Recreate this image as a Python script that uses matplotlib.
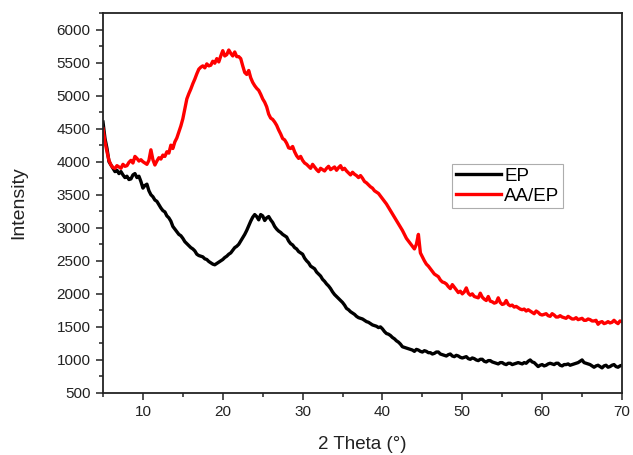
import matplotlib
matplotlib.use("Agg")
import matplotlib.pyplot as plt
from matplotlib.ticker import MultipleLocator

plt.rcParams['font.family'] = ['Liberation Sans', 'DejaVu Sans']

# intensities sampled every 0.25 degree, one row per degree (x.00, x.25, x.50, x.75)
aa_ep = [
    4500, 4300, 4150, 4020,  # 5
    3950, 3910, 3900, 3940,  # 6
    3920, 3900, 3960, 3930,  # 7
    3940, 3990, 4020, 3980,  # 8
    4080, 4050, 4010, 4030,  # 9
    4000, 3980, 3960, 4020,  # 10
    4180, 4030, 3950, 4010,  # 11
    4060, 4040, 4100, 4080,  # 12
    4150, 4130, 4250, 4200,  # 13
    4300, 4360, 4450, 4540,  # 14
    4650, 4800, 4950, 5030,  # 15
    5100, 5180, 5250, 5330,  # 16
    5400, 5430, 5450, 5420,  # 17
    5480, 5450, 5460, 5520,  # 18
    5490, 5560, 5510, 5600,  # 19
    5680, 5600, 5620, 5690,  # 20
    5640, 5600, 5660, 5590,  # 21
    5590, 5560, 5450, 5350,  # 22
    5320, 5380, 5270, 5200,  # 23
    5150, 5110, 5080, 5020,  # 24
    4950, 4900, 4830, 4720,  # 25
    4660, 4640, 4600, 4550,  # 26
    4480, 4420, 4350, 4330,  # 27
    4280, 4210, 4200, 4230,  # 28
    4150, 4090, 4050, 4080,  # 29
    4020, 3980, 3960, 3930,  # 30
    3900, 3960, 3920, 3880,  # 31
    3850, 3900, 3880, 3860,  # 32
    3900, 3930, 3880, 3900,  # 33
    3920, 3870, 3910, 3940,  # 34
    3880, 3900, 3860, 3830,  # 35
    3800, 3840, 3810, 3790,  # 36
    3760, 3790, 3750, 3700,  # 37
    3680, 3650, 3620, 3600,  # 38
    3560, 3540, 3520, 3480,  # 39
    3440, 3400, 3360, 3310,  # 40
    3260, 3210, 3160, 3110,  # 41
    3060, 3010, 2960, 2900,  # 42
    2840, 2800, 2760, 2720,  # 43
    2680, 2750, 2900, 2620,  # 44
    2560, 2500, 2450, 2420,  # 45
    2380, 2340, 2300, 2280,  # 46
    2260, 2210, 2180, 2170,  # 47
    2150, 2110, 2080, 2140,  # 48
    2100, 2060, 2020, 2040,  # 49
    2000, 2030, 2090, 2010,  # 50
    1980, 2000, 1960, 1950,  # 51
    1940, 2010, 1950, 1920,  # 52
    1900, 1960, 1890, 1880,  # 53
    1860, 1870, 1940, 1870,  # 54
    1840, 1850, 1900, 1840,  # 55
    1820, 1830, 1800, 1810,  # 56
    1790, 1770, 1760, 1770,  # 57
    1740, 1760, 1740, 1720,  # 58
    1700, 1740, 1720, 1690,  # 59
    1680, 1690, 1700, 1670,  # 60
    1660, 1700, 1680, 1650,  # 61
    1650, 1670, 1650, 1640,  # 62
    1630, 1660, 1640, 1620,  # 63
    1620, 1640, 1610, 1620,  # 64
    1630, 1600, 1600, 1620,  # 65
    1610, 1590, 1590, 1600,  # 66
    1540, 1570, 1580, 1550,  # 67
    1560, 1580, 1560, 1570,  # 68
    1600, 1570, 1550, 1590,  # 69
    1580,                    # 70
]

ep = [
    4600, 4350, 4200, 4000,  # 5
    3950, 3900, 3850, 3870,  # 6
    3820, 3850, 3800, 3760,  # 7
    3780, 3730, 3740, 3800,  # 8
    3820, 3760, 3780, 3700,  # 9
    3600, 3640, 3660, 3560,  # 10
    3500, 3470, 3420, 3400,  # 11
    3350, 3300, 3260, 3240,  # 12
    3180, 3150, 3100, 3020,  # 13
    2980, 2940, 2900, 2880,  # 14
    2840, 2790, 2760, 2730,  # 15
    2700, 2680, 2650, 2600,  # 16
    2580, 2570, 2560, 2530,  # 17
    2520, 2490, 2470, 2450,  # 18
    2440, 2460, 2480, 2500,  # 19
    2520, 2550, 2570, 2600,  # 20
    2620, 2660, 2700, 2720,  # 21
    2750, 2800, 2850, 2900,  # 22
    2960, 3030, 3100, 3160,  # 23
    3200, 3170, 3120, 3200,  # 24
    3180, 3110, 3150, 3170,  # 25
    3120, 3080, 3020, 2980,  # 26
    2950, 2930, 2900, 2880,  # 27
    2860, 2800, 2760, 2740,  # 28
    2700, 2680, 2640, 2620,  # 29
    2600, 2540, 2500, 2470,  # 30
    2420, 2400, 2380, 2330,  # 31
    2300, 2270, 2220, 2190,  # 32
    2150, 2120, 2080, 2030,  # 33
    1990, 1960, 1930, 1900,  # 34
    1870, 1830, 1780, 1760,  # 35
    1730, 1710, 1690, 1660,  # 36
    1640, 1630, 1620, 1600,  # 37
    1580, 1570, 1550, 1530,  # 38
    1520, 1510, 1490, 1500,  # 39
    1470, 1430, 1400, 1390,  # 40
    1370, 1340, 1320, 1290,  # 41
    1270, 1240, 1200, 1190,  # 42
    1180, 1170, 1160, 1150,  # 43
    1130, 1160, 1150, 1130,  # 44
    1120, 1140, 1130, 1110,  # 45
    1110, 1090, 1100, 1120,  # 46
    1120, 1090, 1080, 1070,  # 47
    1060, 1080, 1090, 1060,  # 48
    1050, 1070, 1060, 1040,  # 49
    1030, 1040, 1050, 1020,  # 50
    1010, 1030, 1020, 1000,  # 51
    990, 1010, 1010, 980,    # 52
    970, 990, 990, 970,      # 53
    960, 950, 940, 960,      # 54
    960, 940, 930, 950,      # 55
    950, 930, 940, 950,      # 56
    960, 950, 940, 960,      # 57
    950, 980, 1000, 970,     # 58
    960, 930, 900, 920,      # 59
    930, 910, 920, 940,      # 60
    950, 940, 930, 950,      # 61
    950, 920, 910, 930,      # 62
    930, 940, 920, 930,      # 63
    940, 950, 960, 980,      # 64
    1000, 960, 950, 940,     # 65
    930, 910, 890, 910,      # 66
    920, 900, 880, 910,      # 67
    920, 890, 900, 920,      # 68
    930, 900, 890, 910,      # 69
    920,                     # 70
]

two_theta = [5.0 + 0.25 * i for i in range(len(ep))]

series_labels = ["EP", "AA/EP"]
x_label = "2 Theta (°)"
y_label = "Intensity"

fig = plt.figure(figsize=(6.33, 4.55), dpi=100)
ax = fig.add_axes([103/633, 1-393/455, (622-103)/633, (393-13)/455])

ax.plot(two_theta, ep, color='black', lw=2.4, label=series_labels[0])
ax.plot(two_theta, aa_ep, color='#ff0000', lw=2.4, label=series_labels[1])

ax.set_xlim(5, 70)
ax.set_ylim(500, 6250)
ax.xaxis.set_major_locator(MultipleLocator(10))
ax.xaxis.set_minor_locator(MultipleLocator(5))
ax.yaxis.set_major_locator(MultipleLocator(500))
ax.yaxis.set_minor_locator(MultipleLocator(250))
ax.tick_params(which='both', direction='out', top=False, right=False,
               labelsize=11, colors='#222222', width=1.1)
ax.tick_params(which='major', length=5, pad=4)
ax.tick_params(which='minor', length=3)
for s in ax.spines.values():
    s.set_linewidth(1.3)
    s.set_color('#222222')

ax.set_xlabel(x_label, fontsize=13.5, color='#222222')
ax.set_ylabel(y_label, fontsize=14, color='#222222')
ax.xaxis.set_label_coords(0.5, -0.112)
ax.yaxis.set_label_coords(-0.145, 0.5)

leg = ax.legend(loc='upper left', bbox_to_anchor=(0.672, 0.603), borderaxespad=0,
                fontsize=13.5, frameon=True, fancybox=False, handlelength=2.4,
                handletextpad=0.2, labelspacing=0.15, borderpad=0.2)
leg.get_frame().set_edgecolor('#999999')
leg.get_frame().set_linewidth(0.8)

fig.savefig('out.png', dpi=100)
